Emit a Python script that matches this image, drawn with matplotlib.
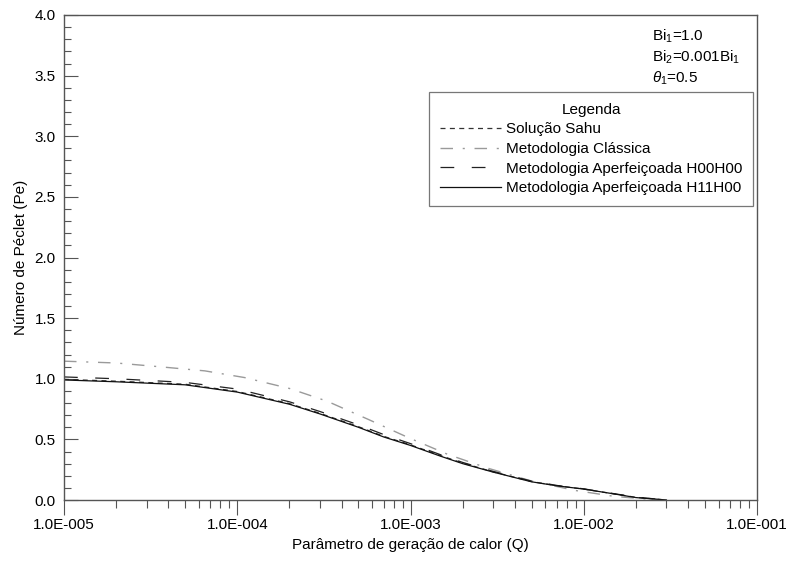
import numpy as np
import matplotlib
matplotlib.use("Agg")
import matplotlib.pyplot as plt
from matplotlib.ticker import FixedLocator, LogLocator, MultipleLocator, NullFormatter

plt.rcParams["font.family"] = ["Liberation Sans", "DejaVu Sans"]
plt.rcParams["mathtext.fontset"] = "custom"
plt.rcParams["mathtext.rm"] = "Liberation Sans"
plt.rcParams["mathtext.it"] = "Liberation Sans:italic"

# Q values and Peclet numbers
q_ref = [1e-5, 2e-5, 5e-5, 1e-4, 2e-4, 3e-4, 5e-4, 7e-4, 1e-3, 1.5e-3, 2e-3,
         3e-3, 5e-3, 7e-3, 1e-2, 1.5e-2, 2e-2, 3e-2]
pe_sahu = [0.995, 0.98, 0.955, 0.895, 0.795, 0.715, 0.605, 0.525, 0.455, 0.365,
           0.305, 0.232, 0.152, 0.118, 0.09, 0.05, 0.022, 0.0]
pe_h00 = [1.015, 1.0, 0.97, 0.915, 0.81, 0.73, 0.62, 0.54, 0.465, 0.372,
          0.31, 0.236, 0.156, 0.12, 0.092, 0.052, 0.024, 0.0]
pe_h11 = [0.99, 0.975, 0.95, 0.89, 0.79, 0.71, 0.60, 0.52, 0.45, 0.36,
          0.30, 0.23, 0.15, 0.117, 0.09, 0.05, 0.02, 0.0]

q_cls = [1e-5, 2e-5, 3.5e-5, 6.5e-5, 1.1e-4, 2e-4, 3.3e-4, 5.7e-4, 9.7e-4,
         1.65e-3, 2.8e-3, 4.9e-3, 8.8e-3, 1.5e-2, 2.2e-2, 3e-2]
pe_cls = [1.145, 1.13, 1.10, 1.065, 1.01, 0.92, 0.815, 0.665, 0.515,
          0.375, 0.262, 0.16, 0.08, 0.03, 0.01, 0.0]

x_ticks = [1e-5, 1e-4, 1e-3, 1e-2, 1e-1]
x_labels = ["1.0E-005", "1.0E-004", "1.0E-003", "1.0E-002", "1.0E-001"]

fig = plt.figure(figsize=(7.95, 5.62), dpi=100)
ax = fig.add_axes([64 / 795, 62 / 562, 693 / 795, 485 / 562])

ax.plot(q_ref, pe_sahu, color="#333333", lw=0.9, dashes=(4, 3.5), label="Solução Sahu")
ax.plot(q_cls, pe_cls, color="#9a9a9a", lw=1.0, dashes=(9, 7, 1.5, 7), label="Metodologia Clássica")
ax.plot(q_ref, pe_h00, color="#222222", lw=0.9, dashes=(11, 14), label="Metodologia Aperfeiçoada H00H00")
ax.plot(q_ref, pe_h11, color="#111111", lw=0.9, label="Metodologia Aperfeiçoada H11H00")

ax.set_xscale("log")
ax.set_xlim(1e-5, 1e-1)
ax.set_ylim(0, 4.0)
ax.xaxis.set_major_locator(FixedLocator(x_ticks))
ax.set_xticklabels(x_labels)
ax.xaxis.set_minor_locator(LogLocator(base=10, subs=np.arange(2, 10)))
ax.xaxis.set_minor_formatter(NullFormatter())
ax.yaxis.set_major_locator(MultipleLocator(0.5))
ax.yaxis.set_minor_locator(MultipleLocator(0.1))
ax.yaxis.set_major_formatter(matplotlib.ticker.FormatStrFormatter("%.1f"))

ax.tick_params(axis="x", which="major", direction="out", length=11, width=0.8, color="#555555",
               labelsize=11, pad=2)
ax.tick_params(axis="x", which="minor", direction="out", length=5.5, width=0.8, color="#555555")
ax.tick_params(axis="y", which="major", direction="in", length=10, width=0.8, color="#555555",
               labelsize=11, pad=6)
ax.tick_params(axis="y", which="minor", direction="in", length=5, width=0.8, color="#555555")
for s in ax.spines.values():
    s.set_color("#555555")
    s.set_linewidth(1.0)

ax.set_xlabel("Parâmetro de geração de calor (Q)", fontsize=11, labelpad=4)
ax.set_ylabel("Número de Péclet (Pe)", fontsize=11, labelpad=5)

ax.text(0.848, 0.975, "Bi$_1$=1.0\nBi$_2$=0.001Bi$_1$\n$\\theta_1$=0.5", transform=ax.transAxes,
        ha="left", va="top", fontsize=11, linespacing=1.3)

leg = ax.legend(loc="upper right", bbox_to_anchor=(0.9945, 0.841), title="Legenda", fontsize=11,
                title_fontsize=11, frameon=True, fancybox=False, edgecolor="#555555",
                handlelength=4.0, handletextpad=0.35, borderpad=0.7, labelspacing=0.37,
                borderaxespad=0)
leg.get_frame().set_linewidth(0.9)

fig.savefig("out.png", dpi=100)
